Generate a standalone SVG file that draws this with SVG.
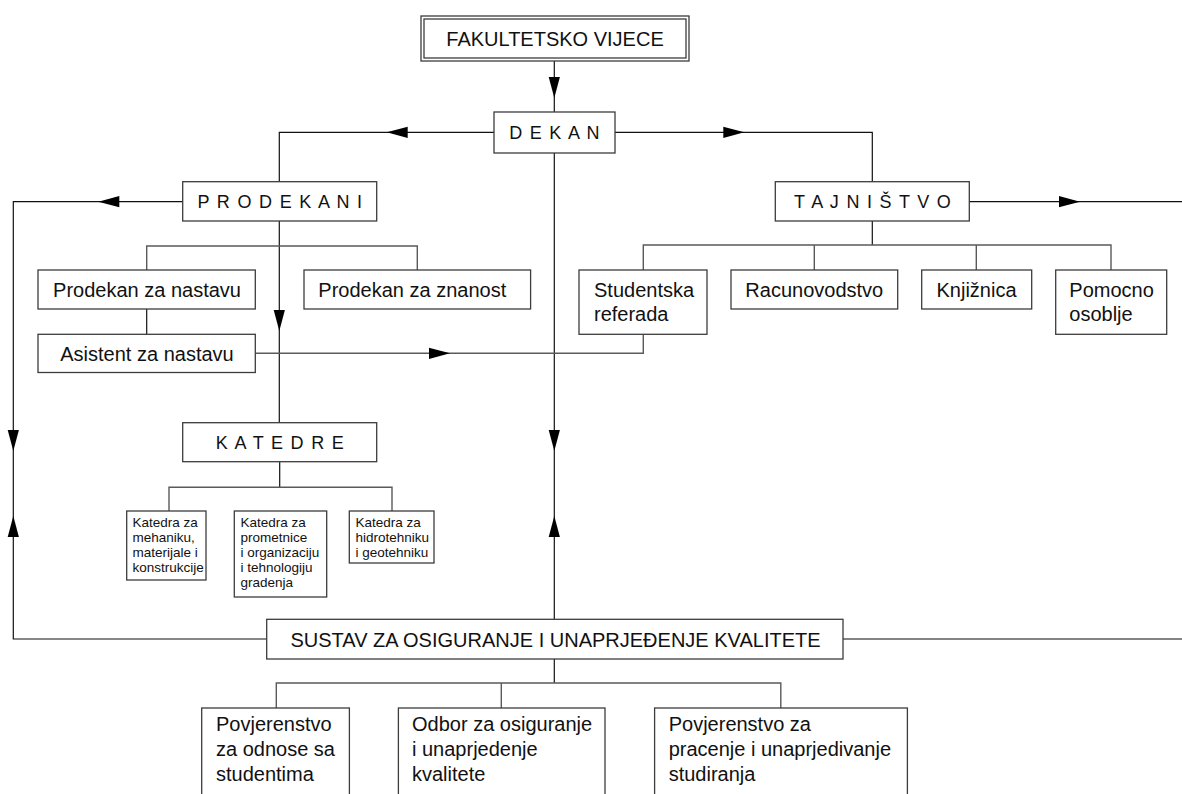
<svg xmlns="http://www.w3.org/2000/svg" xmlns:xlink="http://www.w3.org/1999/xlink" width="1182" height="794" viewBox="0 0 1182 794">
<style>
.box{fill:#fff;stroke:#3c3c3c;stroke-width:1.3}
.c{fill:none;stroke:#111;stroke-width:1.2}
.b{fill:none;stroke:#5a5a5a;stroke-width:1.4}
text{font-family:"Liberation Sans",Arial,sans-serif;fill:#111}
.t20{font-size:20px}
.ts{font-size:18px;letter-spacing:1.3px}
.t13{font-size:13.5px}
.mid{text-anchor:middle}
</style>
<defs>
<path id="ah" d="M0,0 L-21,-5.6 L-21,5.6 Z" fill="#000"/>
</defs>
<rect width="1182" height="794" fill="#fff"/>

<g id="connectors">
<path class="c" d="M554.3,61 V112"/>
<path class="c" d="M494,132.3 H279.3 V181.7"/>
<path class="c" d="M615,132.3 H872.3 V181.7"/>
<path class="c" d="M554.3,153 V619.3"/>
<path class="c" d="M182.7,201.7 H13.3 V639 H266.7"/>
<path class="c" d="M969.3,201.7 H1182"/>
<path class="c" d="M279.3,221 V422.7"/>
<path class="b" d="M146.7,270 V246 H417.3 V270"/>
<path class="c" d="M146.7,309 V334.3"/>
<path class="b" d="M255.3,353.3 H643.3 V334.3"/>
<path class="c" d="M872.3,221 V245"/>
<path class="b" d="M643.3,270 V245 H1111 V270 M814.3,245 V270 M976.3,245 V270"/>
<path class="c" d="M279.7,461.7 V487.3"/>
<path class="b" d="M169,511 V487.3 H392 V511"/>
<path class="b" d="M843,639 H1182"/>
<path class="c" d="M554.3,659 V683"/>
<path class="b" d="M276.3,708 V683 H780.8 V708 M501.3,683 V708"/>
<use xlink:href="#ah" transform="translate(554.3,98) rotate(90)"/>
<use xlink:href="#ah" transform="translate(386.7,132.3) rotate(180)"/>
<use xlink:href="#ah" transform="translate(744.3,132.3)"/>
<use xlink:href="#ah" transform="translate(98.3,201.7) rotate(180)"/>
<use xlink:href="#ah" transform="translate(1080,201.7)"/>
<use xlink:href="#ah" transform="translate(279.3,331) rotate(90)"/>
<use xlink:href="#ah" transform="translate(450,353.3)"/>
<use xlink:href="#ah" transform="translate(13.3,451) rotate(90)"/>
<use xlink:href="#ah" transform="translate(13.3,516) rotate(-90)"/>
<use xlink:href="#ah" transform="translate(554.3,451) rotate(90)"/>
<use xlink:href="#ah" transform="translate(554.3,516) rotate(-90)"/>
</g>

<g id="fakultetsko-vijece">
<rect class="box" x="421" y="16" width="268" height="45"/>
<rect class="box" x="424" y="19" width="262" height="39"/>
<text class="t20 mid" x="555" y="45.5">FAKULTETSKO VIJECE</text>
</g>
<g id="dekan">
<rect class="box" x="494" y="112" width="121" height="41"/>
<text class="ts mid" x="555" y="138.8">D E K A N</text>
</g>
<g id="prodekani">
<rect class="box" x="182.7" y="181.7" width="194" height="39.3"/>
<text class="ts mid" x="280.5" y="207.8">P R O D E K A N I</text>
</g>
<g id="tajnistvo">
<rect class="box" x="775.3" y="181.7" width="194" height="39.3"/>
<text class="ts mid" x="873" y="207.8">T A J N I Š T V O</text>
</g>
<g id="prodekan-nastava">
<rect class="box" x="38" y="270" width="217.3" height="39"/>
<text class="t20 mid" x="147" y="297">Prodekan za nastavu</text>
</g>
<g id="prodekan-znanost">
<rect class="box" x="304" y="270" width="226.6" height="39"/>
<text class="t20" x="318.3" y="297">Prodekan za znanost</text>
</g>
<g id="asistent">
<rect class="box" x="38" y="334.3" width="217.3" height="38.2"/>
<text class="t20 mid" x="147" y="361">Asistent za nastavu</text>
</g>
<g id="studentska-referada">
<rect class="box" x="579" y="270" width="128" height="64.3"/>
<text class="t20" x="594" y="297">Studentska</text>
<text class="t20" x="594" y="321">referada</text>
</g>
<g id="racunovodstvo">
<rect class="box" x="731" y="270" width="166.7" height="39"/>
<text class="t20 mid" x="814.3" y="297">Racunovodstvo</text>
</g>
<g id="knjiznica">
<rect class="box" x="921.7" y="270" width="110" height="39"/>
<text class="t20 mid" x="976.5" y="297">Knjižnica</text>
</g>
<g id="pomocno-osoblje">
<rect class="box" x="1055.7" y="270" width="111" height="64.3"/>
<text class="t20" x="1069.3" y="297">Pomocno</text>
<text class="t20" x="1069.3" y="321">osoblje</text>
</g>
<g id="katedre">
<rect class="box" x="182.7" y="422.7" width="194" height="39"/>
<text class="ts mid" x="280.5" y="448.8">K A T E D R E</text>
</g>
<g id="katedra-1">
<rect class="box" x="126.7" y="511" width="79.3" height="69"/>
<text class="t13" x="132.5"><tspan x="132.5" y="527">Katedra za</tspan><tspan x="132.5" y="542">mehaniku,</tspan><tspan x="132.5" y="557">materijale i</tspan><tspan x="132.5" y="572">konstrukcije</tspan></text>
</g>
<g id="katedra-2">
<rect class="box" x="234.3" y="511" width="92.4" height="86"/>
<text class="t13" x="240.5"><tspan x="240.5" y="527">Katedra za</tspan><tspan x="240.5" y="542">prometnice</tspan><tspan x="240.5" y="557">i organizaciju</tspan><tspan x="240.5" y="572">i tehnologiju</tspan><tspan x="240.5" y="587">gradenja</tspan></text>
</g>
<g id="katedra-3">
<rect class="box" x="349.3" y="511" width="84.7" height="52"/>
<text class="t13" x="355.5"><tspan x="355.5" y="527">Katedra za</tspan><tspan x="355.5" y="542">hidrotehniku</tspan><tspan x="355.5" y="557">i geotehniku</tspan></text>
</g>
<g id="sustav">
<rect class="box" x="266.7" y="619.3" width="576.3" height="39.7"/>
<text class="t20 mid" x="555.5" y="646.5">SUSTAV ZA OSIGURANJE I UNAPRJEĐENJE KVALITETE</text>
</g>
<g id="povjerenstvo-studenti">
<rect class="box" x="201.7" y="708" width="147.7" height="100"/>
<text class="t20"><tspan x="216" y="731">Povjerenstvo</tspan><tspan x="216" y="756">za odnose sa</tspan><tspan x="216" y="781">studentima</tspan></text>
</g>
<g id="odbor-kvaliteta">
<rect class="box" x="398.4" y="708" width="206.6" height="100"/>
<text class="t20"><tspan x="412" y="731">Odbor za osiguranje</tspan><tspan x="412" y="756">i unaprjedenje</tspan><tspan x="412" y="781">kvalitete</tspan></text>
</g>
<g id="povjerenstvo-studiranje">
<rect class="box" x="654.6" y="708" width="252.8" height="100"/>
<text class="t20"><tspan x="668.7" y="731">Povjerenstvo za</tspan><tspan x="668.7" y="756">pracenje i unaprjedivanje</tspan><tspan x="668.7" y="781">studiranja</tspan></text>
</g>
</svg>
